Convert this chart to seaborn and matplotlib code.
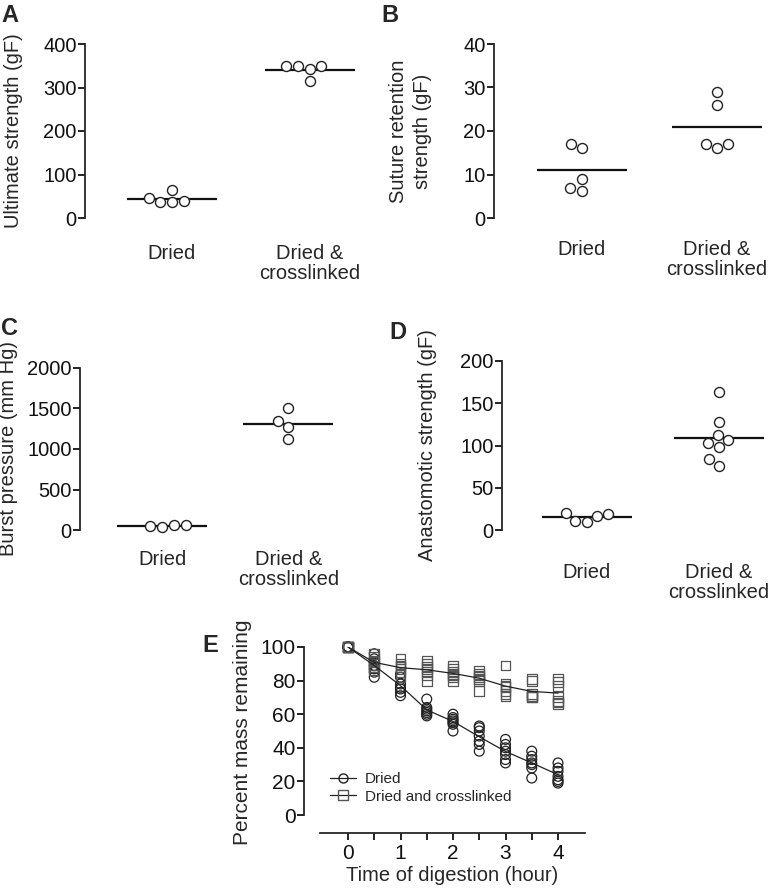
import pandas as pd
import numpy as np
import matplotlib
matplotlib.use('Agg')
import matplotlib.pyplot as plt
from matplotlib.lines import Line2D
import seaborn as sns

# --- DATA ---
groups = ['Dried', 'Dried &\ncrosslinked']

# A: ultimate strength (gF)
ult_dried = [40, 36, 36, 45, 64]
ult_xl = [349, 349, 342, 349, 314]

# B: suture retention strength (gF)
sut_dried = [17, 16, 9, 6.3, 6.9]
sut_xl = [29, 26, 17, 16, 17]

# C: burst pressure (mm Hg)
burst_dried = [65, 35, 50, 65]
burst_xl = [1500, 1350, 1270, 1120]

# D: anastomotic strength (gF)
ana_dried = [20, 17, 9, 11, 18.5]
ana_xl = [163, 128, 113, 103, 98, 106, 84, 76]

# E: percent mass remaining vs time of digestion
times = [0, 0.5, 1, 1.5, 2, 2.5, 3, 3.5, 4]
mass_dried = [
    [100, 100, 100, 100, 100, 100, 100],
    [82, 85, 87, 89, 91, 93, 96],
    [71, 73, 75, 76, 78, 82, 84],
    [59, 60, 61, 62, 63, 64, 69],
    [50, 54, 55, 56, 57, 58, 60],
    [38, 42, 44, 47, 50, 52, 53],
    [31, 33, 36, 38, 40, 42, 45],
    [22, 28, 30, 31, 33, 35, 38],
    [19, 20, 21, 23, 26, 28, 31],
]
mass_xl = [
    [100, 100, 100, 100, 100, 100, 100],
    [86, 88, 89, 91, 92, 94, 96],
    [82, 85, 87, 88, 89, 90, 93],
    [80, 83, 85, 87, 88, 90, 92],
    [80, 82, 83, 84, 85, 87, 89],
    [74, 80, 81, 82, 83, 84, 86],
    [71, 72, 74, 76, 77, 78, 89],
    [70, 70, 71, 71, 72, 80, 81],
    [66, 67, 68, 70, 77, 79, 81],
]

# --- STYLE ---
sns.set_style("ticks")
plt.rcParams['font.family'] = ['Liberation Sans', 'DejaVu Sans']
plt.rcParams['axes.linewidth'] = 1.3

W, H = 771, 891
fig = plt.figure(figsize=(W / 100, H / 100), dpi=100)
FS = 14.5


def px_axes(l, t, r, b):
    return fig.add_axes([l / W, 1 - b / H, (r - l) / W, (b - t) / H])


def dot_panel(ax, dried, xl, ymax, step, ylabel, xlim, label_x, label_pad, label_y=0.5):
    df = pd.DataFrame({'group': [groups[0]] * len(dried) + [groups[1]] * len(xl),
                       'value': dried + xl})
    sns.swarmplot(data=df, x='group', y='value', order=groups, ax=ax,
                  color='white', edgecolor='#222222', linewidth=1.0, size=7.2)
    sns.pointplot(data=df, x='group', y='value', order=groups, ax=ax,
                  estimator='mean', errorbar=None, color='#111111',
                  marker='_', markersize=65, markeredgewidth=1.6, linestyle='none')
    ax.set_ylim(0, ymax)
    ax.set_yticks(np.arange(0, ymax + 1, step))
    ax.set_xlim(*xlim)
    sns.despine(ax=ax, bottom=True)
    ax.tick_params(axis='y', length=5, width=1.3, pad=1, labelsize=FS, colors='#111111')
    ax.tick_params(axis='x', length=0, pad=label_pad, labelsize=FS)
    for t in ax.get_xticklabels():
        t.set_linespacing(1.05)
    ax.set_xlabel('')
    ax.set_ylabel(ylabel, fontsize=FS, linespacing=1.3)
    bbox = ax.get_position()
    ax.yaxis.set_label_coords((label_x - bbox.x0 * W) / (bbox.width * W), label_y)
    for c in ax.collections:
        c.set_clip_on(False)
    for ln in ax.lines:
        ln.set_clip_on(False)


# A
axA = px_axes(85, 44, 369, 218)
dot_panel(axA, ult_dried, ult_xl, 400, 100, 'Ultimate strength (gF)',
          (-0.63, 1.43), 23, 19)

# B
axB = px_axes(494, 44, 768, 218)
dot_panel(axB, sut_dried, sut_xl, 40, 10, 'Suture retention\nstrength (gF)',
          (-0.652, 1.38), 432, 16)

# C
axC = px_axes(80, 368, 345, 530)
dot_panel(axC, burst_dried, burst_xl, 2000, 500, 'Burst pressure (mm Hg)',
          (-0.651, 1.45), 18, 14.5, label_y=0.505)

# D
axD = px_axes(502, 361, 769, 530)
dot_panel(axD, ana_dried, ana_xl, 200, 50, 'Anastomotic strength (gF)',
          (-0.644, 1.38), 437, 24)

# E
rows = []
for t, vals in zip(times, mass_dried):
    for v in vals:
        rows.append(('Dried', t, v))
for t, vals in zip(times, mass_xl):
    for v in vals:
        rows.append(('Dried and crosslinked', t, v))
dfE = pd.DataFrame(rows, columns=['group', 'time', 'mass'])

axE = px_axes(304, 647, 585, 833)
styles = {'Dried': ('o', '#222222'), 'Dried and crosslinked': ('s', '#555555')}
for g, (m, ec) in styles.items():
    sub = dfE[dfE['group'] == g]
    sns.lineplot(data=sub, x='time', y='mass', estimator='mean', errorbar=None,
                 color='#222222', linewidth=0.9, ax=axE)
    sns.scatterplot(data=sub, x='time', y='mass', marker=m, s=50,
                    facecolors='none', edgecolor=ec, linewidth=0.9, ax=axE)
for c in axE.collections:
    c.set_facecolor('none')
    c.set_clip_on(False)

axE.set_xlim(-0.838, 4.514)
axE.set_ylim(-10.7, 100)
axE.set_yticks(np.arange(0, 101, 20))
axE.set_xticks(times)
axE.set_xticklabels([f'{t:g}' if t == int(t) else '' for t in times])
axE.spines['left'].set_bounds(0, 100)
axE.spines['bottom'].set_bounds(-0.533, 4.514)
sns.despine(ax=axE)
axE.tick_params(axis='both', length=5, width=1.3, labelsize=15, colors='#111111')
axE.tick_params(axis='y', pad=1)
axE.tick_params(axis='x', pad=3)
axE.set_xlabel('Time of digestion (hour)', fontsize=FS)
axE.set_ylabel('Percent mass remaining', fontsize=15)
axE.yaxis.set_label_coords((252 - 304) / (585 - 304), 0.54)
axE.xaxis.set_label_coords((452 - 304) / (585 - 304), -0.175)

handles = [Line2D([0], [0], color='#222222', lw=0.9, marker=styles[g][0],
                  markerfacecolor='none', markeredgecolor=styles[g][1], markersize=6.5)
           for g in styles]
axE.legend(handles, list(styles), loc='upper left', frameon=False, fontsize=11,
           bbox_to_anchor=(330 / W, 1 - 772 / H), bbox_transform=fig.transFigure,
           borderaxespad=0, borderpad=0, handlelength=1.7, handletextpad=0.6,
           labelspacing=0.25)

# panel letters
for letter, x, y in [('A', 1, 4), ('B', 381, 4), ('C', 1, 317), ('D', 389, 321), ('E', 202, 634)]:
    fig.text(x / W, 1 - y / H, letter, fontsize=17, fontweight='bold', va='top', ha='left')

plt.savefig('out.png', dpi=100)
